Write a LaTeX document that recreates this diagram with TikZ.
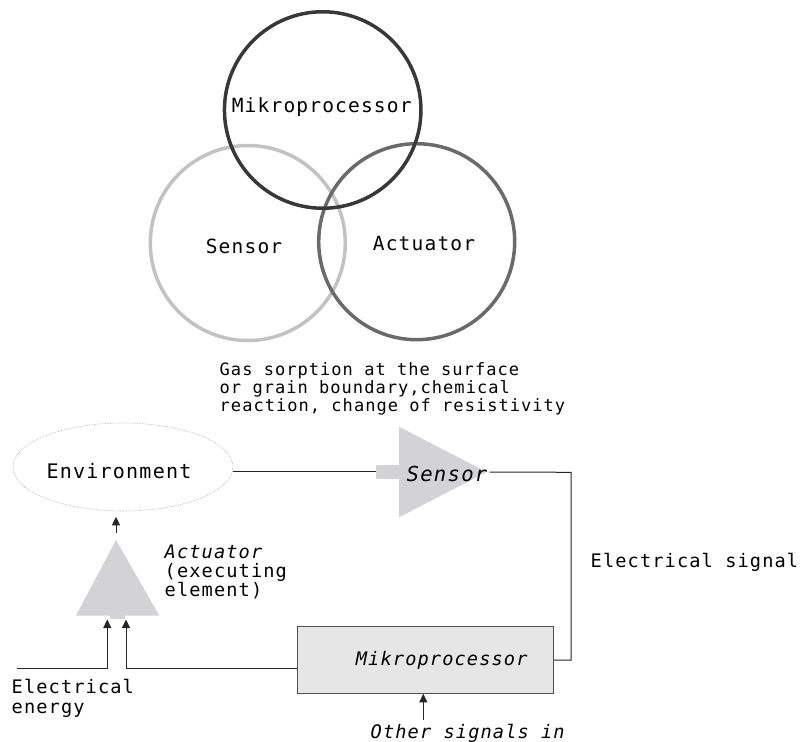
\documentclass[tikz,border=0pt]{standalone}
\usepackage{fontspec}
\newfontfamily\mono[LetterSpace=6,ItalicFont={DejaVu Sans Mono Oblique}]{DejaVu Sans Mono}
\usetikzlibrary{arrows.meta,shapes.geometric}
\definecolor{cmp}{HTML}{383838}
\definecolor{csens}{HTML}{C2C2C4}
\definecolor{cact}{HTML}{6A6A6C}
\definecolor{tgray}{HTML}{D3D3D5}
\definecolor{bfill}{HTML}{E6E6E6}
\definecolor{bdraw}{HTML}{505050}
\begin{document}
\begin{tikzpicture}[x=1bp,y=-1bp,
  ring/.style={circle,draw,inner sep=0pt,line width=3.5bp},
  biglbl/.style={font=\mono\fontsize{19.6}{22}\selectfont,inner sep=0pt,anchor=base},
  txt/.style={font=\mono\fontsize{18.7}{22}\selectfont,inner sep=0pt,anchor=base west},
  itxt/.style={font=\mono\itshape\fontsize{18.7}{22}\selectfont,inner sep=0pt},
  small/.style={font=\mono\fontsize{17.1}{18}\selectfont,inner sep=0pt,anchor=base west},
  wire/.style={line width=1bp,draw=black!85},
  arr/.style={wire,-{Triangle[length=8.5bp,width=8bp]}},
  shadefill/.style={fill=tgray,draw=none}]

\useasboundingbox (0,0) rectangle (803,742);

% ---- Venn diagram ----
\node[ring,draw=csens,minimum size=195bp] (cS) at (247.8,243) {};
\node[ring,draw=cact,minimum size=196bp] (cA) at (416.7,241.7) {};
\node[ring,draw=cmp,minimum size=196.5bp] (cM) at (322.7,110) {};
\node[biglbl] (tM) at (321.7,112.3) {Mikroprocessor};
\node[biglbl] (tS) at (244,253.3) {Sensor};
\node[biglbl] (tA) at (424,250.7) {Actuator};

% ---- gas text ----
\node[small] (g1) at (219.5,375.7) {Gas sorption at the surface};
\node[small] (g2) at (219.5,393.3) {or grain boundary,chemical};
\node[small] (g3) at (219.5,411) {reaction, change of resistivity};

% ---- environment ----
\node[ellipse,draw=gray!70,densely dotted,line width=0.6bp,minimum width=220bp,minimum height=88bp,inner sep=0pt] (env) at (123,467) {};
\node[font=\mono\fontsize{20.1}{22}\selectfont,inner sep=0pt,anchor=base west] (tenv) at (46.5,478.3) {Environment};

% ---- sensor (triangle) ----
\coordinate (sIn) at (376,471.7);
\coordinate (sTip) at (486.7,472);
\fill[shadefill] (376,465) rectangle (400,479.3);
\fill[shadefill] (399,426.7) -- (399,517.3) -- (sTip) -- cycle;
\node[font=\mono\itshape\fontsize{20.7}{22}\selectfont,inner sep=0pt,anchor=base] (tsens) at (447,481.7) {Sensor};
\draw[wire] (env.east |- sIn) -- (sIn);
\coordinate (c1) at (571,472.3);
\coordinate (c2) at (571,660);

% ---- microprocessor box ----
\node[draw=bdraw,fill=bfill,line width=0.9bp,minimum width=256bp,minimum height=66.6bp,inner sep=0pt] (box) at (425.3,660) {};
\node[itxt,anchor=base] (tbox) at (441.7,665) {Mikroprocessor};
\draw[wire] (tsens.east |- sTip) ++(2,0) -- (c1) -- (c2) -- (box.east |- c2);

% ---- actuator (triangle) ----
\fill[shadefill] (116,540) -- (159.3,615.5) -- (76,615.5) -- cycle;
\fill[shadefill] (110,615) rectangle (125,619.3);
\coordinate (aTop) at (116,533);
\coordinate (aIn1) at (107.3,619.5);
\coordinate (aIn2) at (126,619.5);
\draw[arr,shorten >=5.5bp] (aTop) -- (aTop |- env.south);
\node[itxt,anchor=base west] (tact1) at (164.5,558.3) {Actuator};
\node[txt] (tact2) at (164.5,577.7) {(executing};
\node[txt] (tact3) at (164.5,596.7) {element)};

% ---- inputs ----
\coordinate (eIn) at (16.7,668.3);
\draw[arr] (eIn) -| (aIn1);
\draw[arr] (box.west |- eIn) -| (aIn2);
\node[txt] (tel1) at (11.5,693.3) {Electrical};
\node[txt] (tel2) at (11.5,713.3) {energy};

\node[txt] (tsig) at (590.5,567.3) {Electrical signal};

\coordinate (oIn) at (423.3,720);
\draw[arr] (oIn) -- (box.south -| oIn);
\node[itxt,anchor=base west] (tother) at (370.5,738) {Other signals in};
\end{tikzpicture}
\end{document}
